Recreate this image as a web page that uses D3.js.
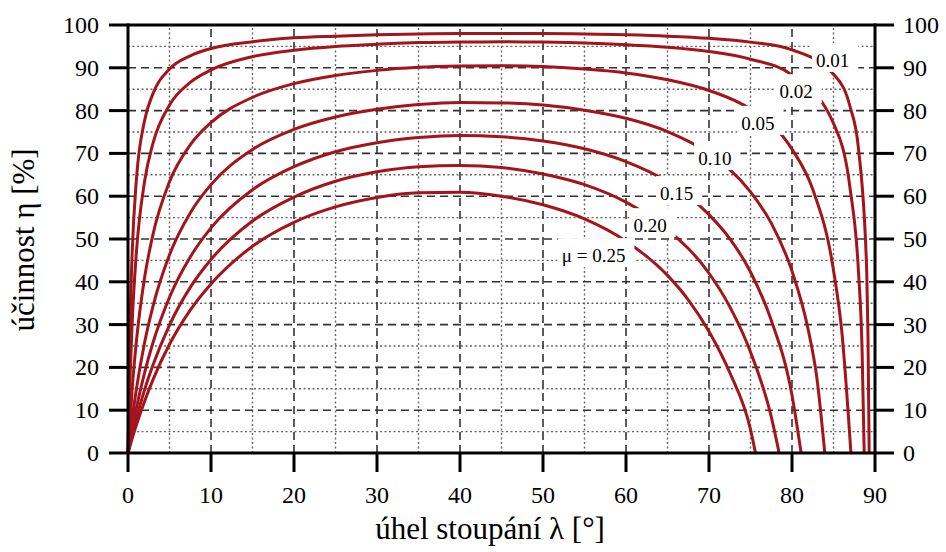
<!DOCTYPE html>
<html>
<head>
<meta charset="utf-8">
<script src="https://cdn.jsdelivr.net/npm/d3@7"></script>
<style>
  body { margin: 0; background: #fff; }
  svg text { font-family: "Liberation Serif", "DejaVu Serif", "Times New Roman", Times, serif; }
</style>
</head>
<body>
<div id="graph"></div>
<script>
var xTicks = [0, 10, 20, 30, 40, 50, 60, 70, 80, 90]
var yTicks = [0, 10, 20, 30, 40, 50, 60, 70, 80, 90, 100]
var xMinor = [5, 15, 25, 35, 45, 55, 65, 75, 85]
var yMinor = [5, 15, 25, 35, 45, 55, 65, 75, 85, 95]

// [lambda deg, eta %]
var mu001 = [[0,0],[0.25,30.4],[0.5,46.6],[1,63.6],[2,77.7],[3,83.9],[5,89.7],[7.5,92.8],[10,94.5],[15,96.1],[20,97.0],[25,97.4],[30,97.7],[35,97.9],[40,98.0],[45,98.0],[50,98.0],[55,97.9],[60,97.7],[65,97.4],[70,96.9],[75,96.0],[80,94.2],[85,88.5],[87,80.9],[88,71.3],[89,42.7],[89.15,28],[89.3,0]]
var mu002 = [[0,0],[0.25,17.9],[0.5,30.4],[1,46.6],[2,63.5],[3,72.3],[5,81.3],[7.5,86.6],[10,89.5],[15,92.6],[20,94.1],[25,95.0],[30,95.5],[35,95.9],[40,96.0],[45,96.1],[50,96.0],[55,95.8],[60,95.4],[65,94.8],[70,93.8],[75,92.0],[80,88.3],[85,77.0],[87,61.8],[88,42.7],[88.45,23.6],[88.7,0]]
var mu005 = [[0,0],[0.5,14.9],[1,25.9],[2,41.0],[3,51.0],[5,63.4],[7.5,72.0],[10,77.2],[15,83.1],[20,86.3],[25,88.2],[30,89.4],[35,90.1],[40,90.4],[45,90.5],[50,90.3],[55,89.7],[60,88.8],[65,87.2],[70,84.7],[75,80.3],[80,71.0],[82.5,61.6],[85,42.7],[86,28.4],[87.1,0]]
var mu010 = [[0,0],[0.5,8.0],[1,14.8],[2,25.8],[3,34.2],[5,46.3],[7.5,56.1],[10,62.7],[15,70.9],[20,75.6],[25,78.5],[30,80.3],[35,81.4],[40,81.9],[45,81.8],[50,81.3],[55,80.1],[60,78.2],[65,75.1],[70,70.0],[75,61.0],[77.5,53.7],[80,42.5],[82,28.4],[83,17.5],[83.95,0]]
var mu015 = [[0,0],[0.5,5.5],[1,10.4],[2,18.8],[3,25.7],[5,36.4],[7.5,45.8],[10,52.6],[15,61.5],[20,66.9],[25,70.4],[30,72.5],[35,73.7],[40,74.2],[45,73.9],[50,72.9],[55,71.1],[60,68.1],[65,63.4],[70,55.7],[72.5,50.1],[75,42.3],[77.5,31.0],[80,13.5],[81.1,0]]
var mu020 = [[0,0],[0.5,4.2],[1,8.0],[2,14.8],[3,20.5],[5,29.9],[7.5,38.7],[10,45.2],[15,54.2],[20,59.8],[25,63.5],[30,65.7],[35,66.9],[40,67.2],[45,66.7],[50,65.2],[55,62.7],[60,58.6],[65,52.2],[70,42.0],[72.5,34.2],[75,23.6],[77.5,8.5],[78.45,0]]
var mu025 = [[0,0],[0.5,3.4],[1,6.5],[2,12.1],[3,17.1],[5,25.4],[7.5,33.4],[10,39.5],[15,48.3],[20,53.9],[25,57.5],[30,59.7],[35,60.8],[40,60.9],[45,60.0],[50,58.0],[55,54.7],[60,49.5],[65,41.5],[67.5,35.8],[70,28.4],[72.5,18.8],[75,5.5],[75.6,0]]

var series = [mu001, mu002, mu005, mu010, mu015, mu020, mu025]

// curve labels: text, lambda (centre), eta (baseline)
var labelText = ['0.01', '0.02', '0.05', '0.10', '0.15', '0.20', 'μ = 0.25']
var labelX = [84.9, 80.5, 75.9, 70.7, 66.1, 62.9, 56.1]
var labelY = [90.2, 82.9, 75.5, 67.3, 59.1, 51.6, 44.6]

var width = 946, height = 552
var svg = d3.select('#graph').append('svg')
  .attr('width', width).attr('height', height)
  .style('display', 'block')

var x = d3.scaleLinear().domain([0, 90]).range([128, 875])
var y = d3.scaleLinear().domain([0, 100]).range([453, 25])

// grid
var grid = svg.append('g')
grid.selectAll('line.minx').data(xMinor).join('line')
  .attr('x1', d => x(d)).attr('x2', d => x(d)).attr('y1', y(0)).attr('y2', y(100))
  .attr('stroke', '#666').attr('stroke-width', 1.4).attr('stroke-dasharray', '2,2.5')
grid.selectAll('line.miny').data(yMinor).join('line')
  .attr('y1', d => y(d)).attr('y2', d => y(d)).attr('x1', x(0)).attr('x2', x(90))
  .attr('stroke', '#666').attr('stroke-width', 1.4).attr('stroke-dasharray', '2,2.5')
grid.selectAll('line.majx').data(xTicks.slice(1, -1)).join('line')
  .attr('x1', d => x(d)).attr('x2', d => x(d)).attr('y1', y(0)).attr('y2', y(100))
  .attr('stroke', '#333').attr('stroke-width', 1.6).attr('stroke-dasharray', '8,5')
grid.selectAll('line.majy').data(yTicks.slice(1, -1)).join('line')
  .attr('y1', d => y(d)).attr('y2', d => y(d)).attr('x1', x(0)).attr('x2', x(90))
  .attr('stroke', '#333').attr('stroke-width', 1.6).attr('stroke-dasharray', '8,5')

// curves
var line = d3.line()
  .x(d => x(d[0]))
  .y(d => y(d[1]))
  .curve(d3.curveMonotoneX)

svg.append('g').selectAll('path').data(series).join('path')
  .attr('d', line)
  .attr('fill', 'none')
  .attr('stroke', '#a3141c')
  .attr('stroke-width', 3)
  .attr('stroke-linejoin', 'round')

// axes: frame with outward ticks
var axisG = svg.append('g').attr('stroke', '#000').attr('stroke-width', 3)
axisG.append('line').attr('x1', x(0)).attr('x2', x(0)).attr('y1', y(100) - 1.5).attr('y2', y(0))
axisG.append('line').attr('x1', x(90)).attr('x2', x(90)).attr('y1', y(100) - 1.5).attr('y2', y(0))
axisG.append('line').attr('x1', x(0)).attr('x2', x(90)).attr('y1', y(100)).attr('y2', y(100))
axisG.append('line').attr('x1', x(0)).attr('x2', x(90)).attr('y1', y(0)).attr('y2', y(0))

axisG.selectAll('line.tl').data(yTicks).join('line')
  .attr('x1', x(0) - 19).attr('x2', x(0)).attr('y1', d => y(d)).attr('y2', d => y(d))
axisG.selectAll('line.tr').data(yTicks).join('line')
  .attr('x1', x(90)).attr('x2', x(90) + 19).attr('y1', d => y(d)).attr('y2', d => y(d))
axisG.selectAll('line.tb').data(xTicks).join('line')
  .attr('x1', d => x(d)).attr('x2', d => x(d)).attr('y1', y(0)).attr('y2', y(0) + 19)

var tickFont = 24
svg.append('g').selectAll('text').data(yTicks).join('text')
  .attr('x', x(0) - 29).attr('y', d => y(d) + 8)
  .attr('text-anchor', 'end').attr('font-size', tickFont)
  .text(d => d)
svg.append('g').selectAll('text').data(yTicks).join('text')
  .attr('x', x(90) + 28).attr('y', d => y(d) + 8)
  .attr('text-anchor', 'start').attr('font-size', tickFont)
  .text(d => d)
svg.append('g').selectAll('text').data(xTicks).join('text')
  .attr('x', d => x(d)).attr('y', y(0) + 50)
  .attr('text-anchor', 'middle').attr('font-size', tickFont)
  .text(d => d)

// curve labels on white boxes
var lab = svg.append('g').selectAll('g').data(labelText).join('g')
lab.append('rect').attr('fill', '#fff')
lab.append('text')
  .attr('x', (d, i) => x(labelX[i]))
  .attr('y', (d, i) => y(labelY[i]))
  .attr('text-anchor', 'middle')
  .attr('font-size', 19)
  .text(d => d)
lab.each(function(){
  var bb = d3.select(this).select('text').node().getBBox()
  d3.select(this).select('rect')
    .attr('x', bb.x - 4).attr('y', bb.y - 7)
    .attr('width', bb.width + 13).attr('height', bb.height + 8)
})

// axis titles
svg.append('text')
  .attr('x', 490).attr('y', 539)
  .attr('text-anchor', 'middle').attr('font-size', 31)
  .text('úhel stoupání λ [°]')
svg.append('text')
  .attr('transform', 'translate(34,240) rotate(-90)')
  .attr('text-anchor', 'middle').attr('font-size', 31)
  .text('účinnost η [%]')
</script>
</body>
</html>
